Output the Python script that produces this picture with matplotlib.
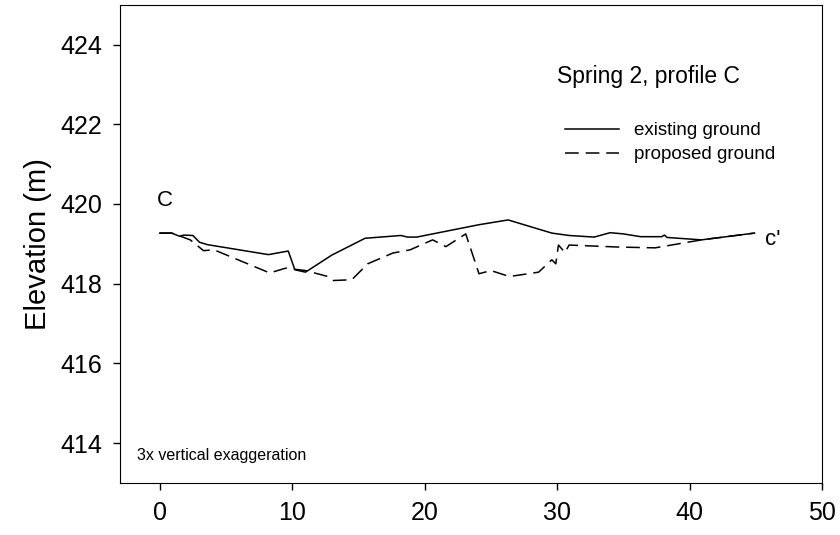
import matplotlib.pyplot as plt

plt.rcParams['font.family'] = ['Liberation Sans', 'DejaVu Sans']

# existing ground profile (distance m, elevation m)
exist_x = [0, 0.9, 1.5, 1.8, 2.5, 3.0, 3.6, 8.2, 9.7, 10.2, 11.0, 13.0, 15.5, 18.2,
           18.7, 19.4, 24.1, 26.3, 29.6, 30.9, 32.8, 34.0, 35.0, 36.3, 37.9, 38.1,
           38.3, 40.9, 44.9]
exist_y = [419.27, 419.27, 419.19, 419.22, 419.21, 419.04, 418.98, 418.73, 418.82,
           418.35, 418.29, 418.72, 419.14, 419.21, 419.17, 419.17, 419.48, 419.6,
           419.27, 419.21, 419.17, 419.28, 419.25, 419.18, 419.18, 419.22, 419.16,
           419.1, 419.27]

# proposed ground profile
prop_x = [0, 0.9, 1.5, 2.3, 3.3, 4.1, 8.3, 9.5, 11.0, 12.7, 13.1, 14.5, 15.7, 17.6,
          18.9, 20.6, 21.6, 23.1, 24.1, 25.0, 26.4, 28.6, 29.6, 29.9, 30.1, 30.6,
          30.9, 34.6, 37.4, 40.9, 44.9]
prop_y = [419.27, 419.27, 419.2, 419.1, 418.83, 418.85, 418.27, 418.39, 418.33,
          418.18, 418.08, 418.1, 418.5, 418.77, 418.85, 419.1, 418.93, 419.25,
          418.25, 418.33, 418.18, 418.29, 418.6, 418.5, 418.97, 418.78, 418.97,
          418.92, 418.9, 419.1, 419.27]

fig = plt.figure(figsize=(8.4, 5.35), dpi=100)
ax = fig.add_axes([0.1429, 0.0972, 0.8357, 0.894])

ax.plot(exist_x, exist_y, color='black', linewidth=1.1, label='existing ground')
ax.plot(prop_x, prop_y, color='black', linewidth=1.1, linestyle=(0, (9, 4.5)),
        label='proposed ground')

ax.set_xlim(-3, 50)
ax.set_ylim(413, 425)
ax.set_xticks([0, 10, 20, 30, 40, 50])
ax.set_yticks([414, 416, 418, 420, 422, 424])
ax.tick_params(labelsize=18, direction='out', length=5, width=1, pad=8)
ax.set_ylabel('Elevation (m)', fontsize=21, labelpad=6)

ax.text(0.35, 419.83, 'C', fontsize=16, ha='center', va='bottom')
ax.text(46.3, 419.1, "c'", fontsize=16, ha='center', va='center')
ax.text(43.8, 423.2, 'Spring 2, profile C', fontsize=16.5, ha='right', va='center')
ax.text(-1.7, 413.7, '3x vertical exaggeration', fontsize=11.5, ha='left', va='center')

ax.legend(loc='upper left', bbox_to_anchor=(0.61, 0.79), frameon=False,
          fontsize=13.5, handlelength=2.9, handletextpad=0.75, labelspacing=0.38)

fig.savefig('out.png', dpi=100)
